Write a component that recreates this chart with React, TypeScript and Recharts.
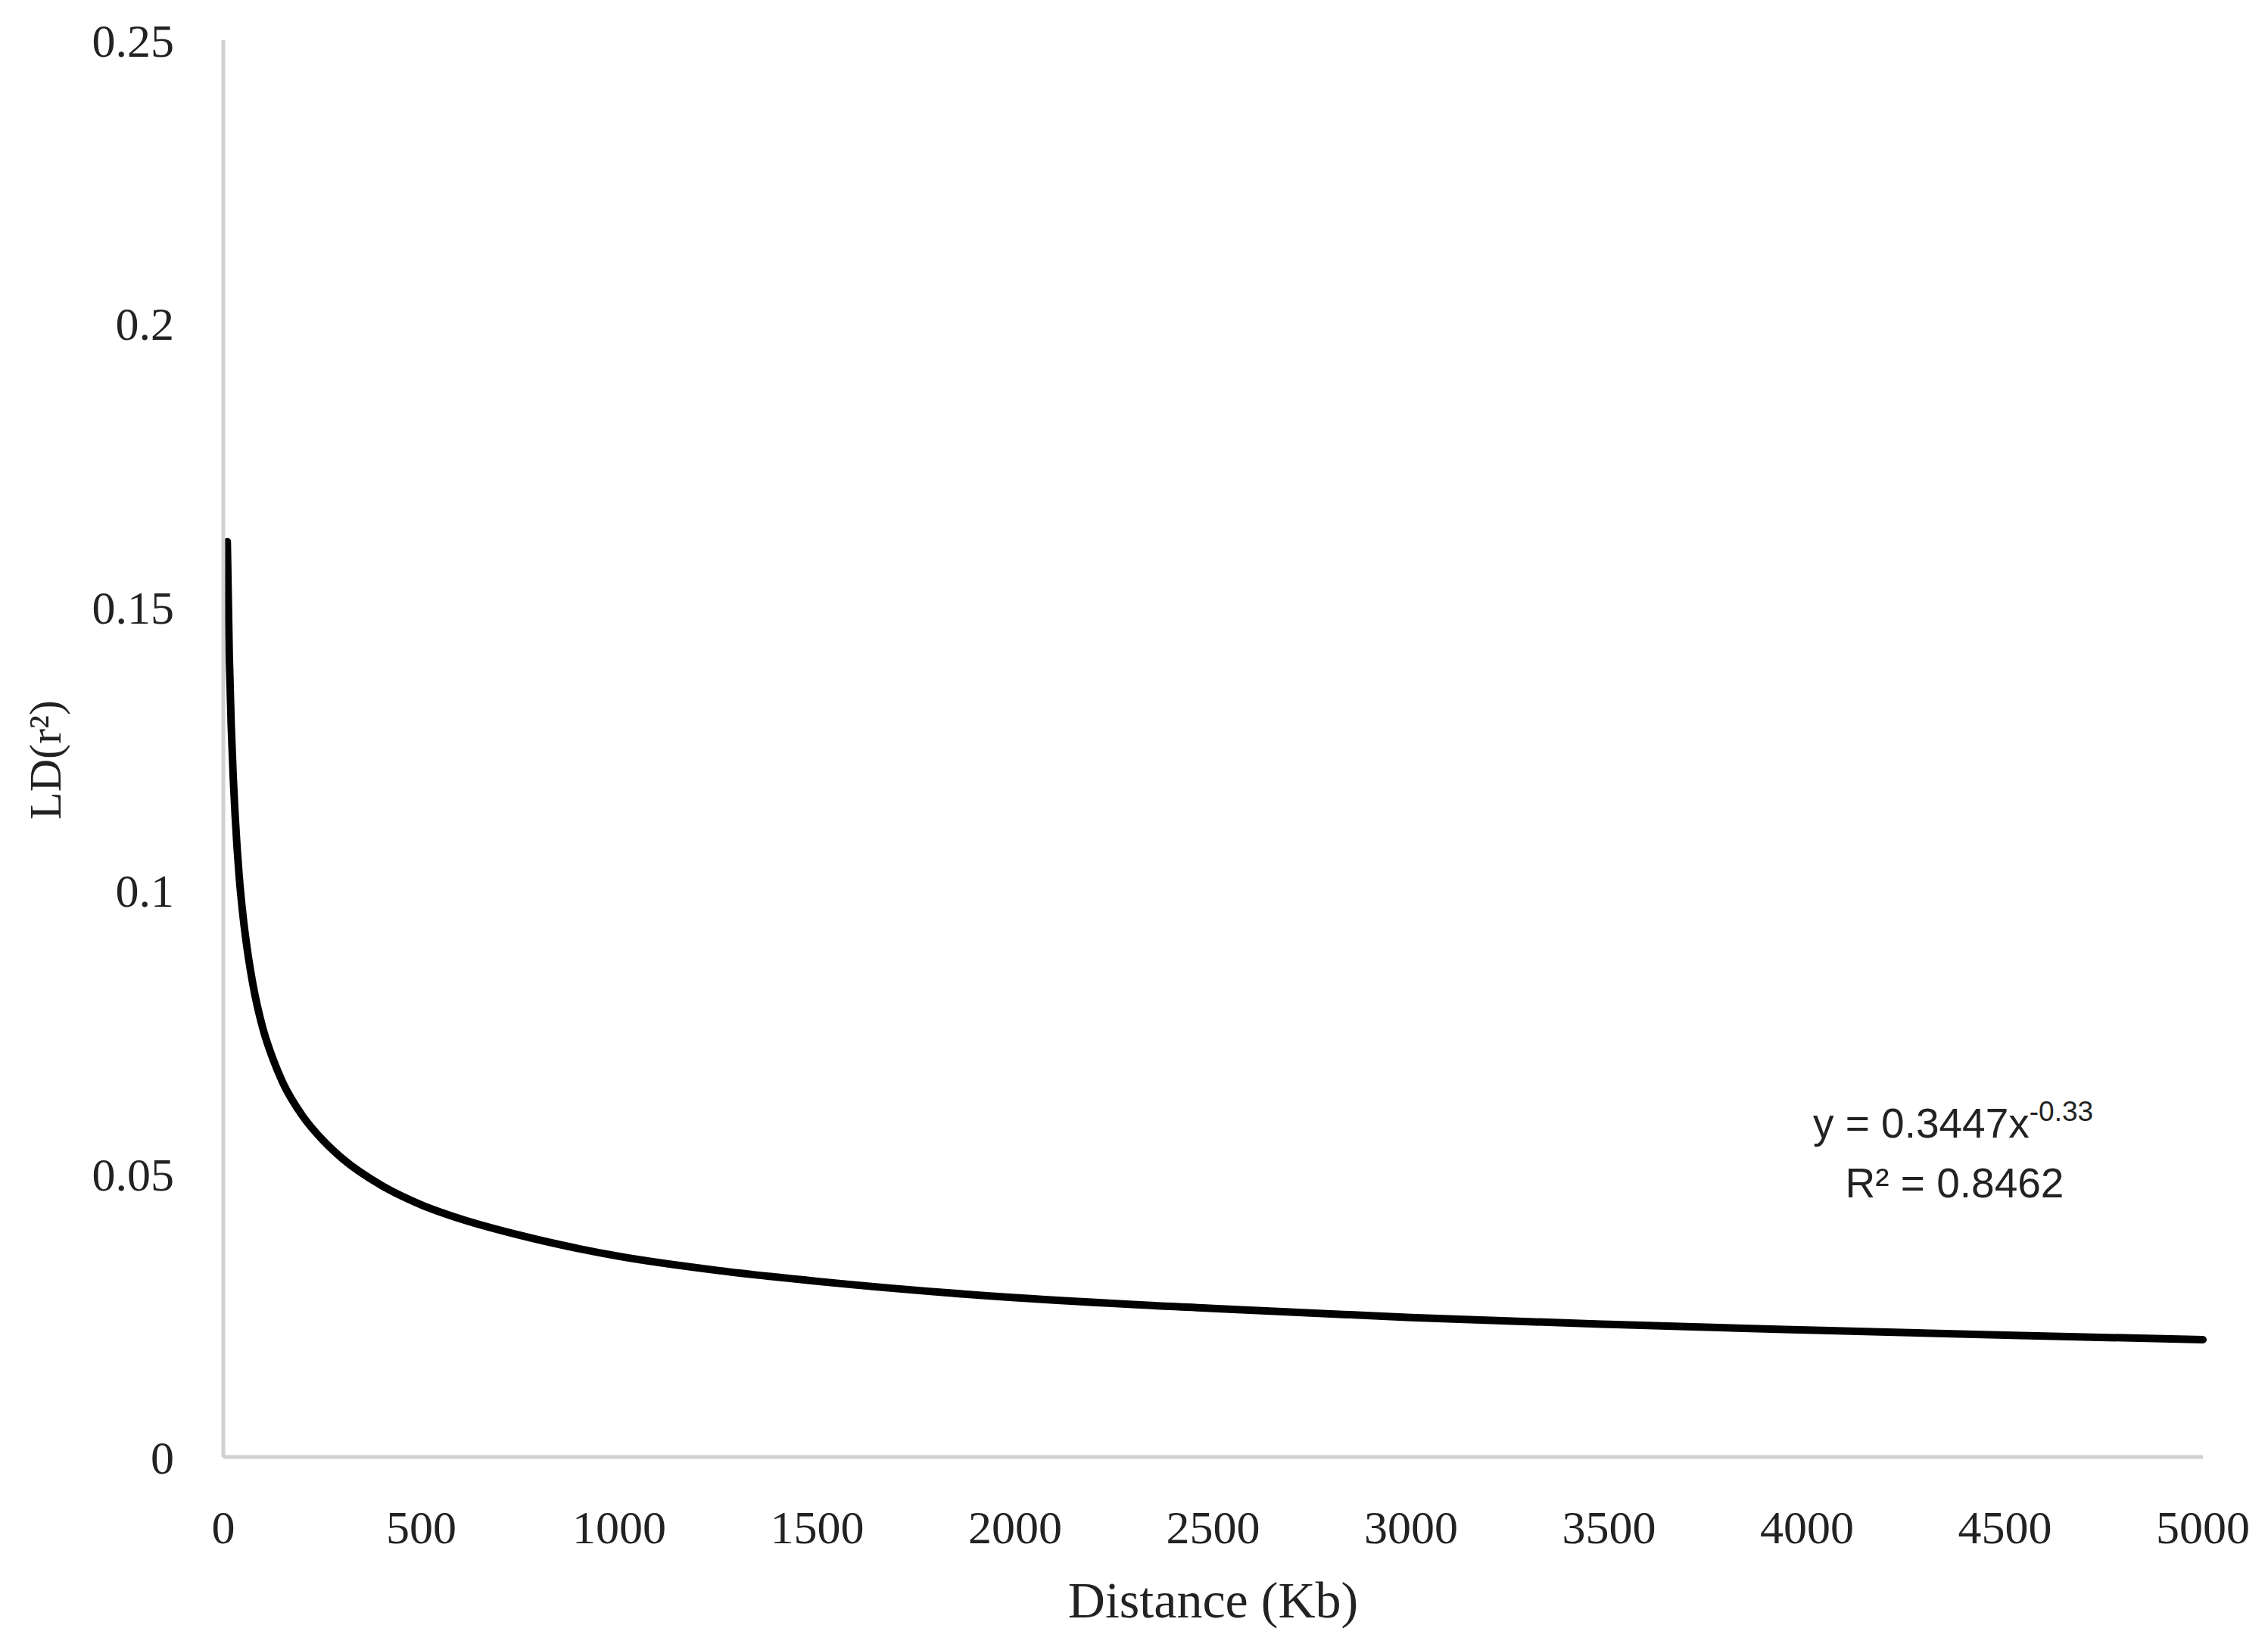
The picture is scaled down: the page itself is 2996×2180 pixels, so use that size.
import { LineChart, Line, XAxis, YAxis, Customized } from "recharts";

// distance (Kb) and LD r² values
const distanceKb = [
  10, 15, 20, 25, 30, 40, 50, 60, 75, 100, 125, 150, 200, 250, 300, 400, 500, 600, 750,
  1000, 1250, 1500, 2000, 2500, 3000, 3500, 4000, 4500, 5000,
];
const ldR2 = [
  0.1615, 0.1415, 0.129, 0.12, 0.113, 0.1025, 0.0953, 0.0898, 0.0833, 0.0756, 0.0703, 0.0661,
  0.0602, 0.056, 0.0527, 0.0479, 0.0445, 0.042, 0.0391, 0.0354, 0.0329, 0.031, 0.0281, 0.0262,
  0.0246, 0.0234, 0.0224, 0.0215, 0.0207,
];
const xTicks = [0, 500, 1000, 1500, 2000, 2500, 3000, 3500, 4000, 4500, 5000];
const yTicks = [0, 0.05, 0.1, 0.15, 0.2, 0.25];
const fitEquation = "y = 0.3447x";
const fitExponent = "-0.33";
const fitR2 = "R² = 0.8462";

const data = distanceKb.map((d, i) => ({ d, r2: ldR2[i] }));

const SERIF = "'Liberation Serif', 'Times New Roman', serif";
const SANS = "'Liberation Sans', Arial, sans-serif";
const AXIS_GRAY = "#d0d0d0";

function YTitle({ viewBox }: any) {
  const cy = viewBox.y + viewBox.height / 2 + 15;
  return (
    <text
      x={80}
      y={cy}
      transform={`rotate(-90, 80, ${cy})`}
      textAnchor="middle"
      fontFamily={SERIF}
      fontSize={60}
      fill="#222"
    >
      LD(r²)
    </text>
  );
}

function XTitle({ viewBox }: any) {
  return (
    <text
      x={viewBox.x + viewBox.width / 2}
      y={viewBox.y + 212}
      textAnchor="middle"
      fontFamily={SERIF}
      fontSize={68}
      fill="#222"
    >
      Distance (Kb)
    </text>
  );
}

function FitNote() {
  return (
    <g fontFamily={SANS} fill="#222" textAnchor="middle">
      <text x={2580} y={1503} fontSize={55}>
        {fitEquation}
        <tspan fontSize={37} dy={-22}>
          {fitExponent}
        </tspan>
      </text>
      <text x={2582} y={1582} fontSize={55}>
        {fitR2}
      </text>
    </g>
  );
}

export default function App() {
  return (
    <div style={{ width: 2996, height: 2180, background: "#fff" }}>
      <style>{`body{margin:0}`}</style>
      <LineChart
        width={2996}
        height={2180}
        data={data}
        margin={{ top: 53, right: 86, bottom: 0, left: 0 }}
      >
        <XAxis
          dataKey="d"
          type="number"
          domain={[0, 5000]}
          ticks={xTicks}
          height={255}
          tickLine={false}
          tickSize={0}
          tickMargin={70}
          axisLine={{ stroke: AXIS_GRAY, strokeWidth: 5 }}
          tick={{ fontFamily: SERIF, fontSize: 62, fill: "#222" }}
          label={{ content: XTitle }}
        />
        <YAxis
          type="number"
          domain={[0, 0.25]}
          ticks={yTicks}
          width={295}
          tickLine={false}
          tickSize={0}
          tickMargin={65}
          axisLine={{ stroke: AXIS_GRAY, strokeWidth: 5 }}
          tick={{ fontFamily: SERIF, fontSize: 62, fill: "#222" }}
          label={{ content: YTitle }}
        />
        <Line
          type="monotone"
          dataKey="r2"
          stroke="#000"
          strokeWidth={10}
          strokeLinecap="round"
          dot={false}
          isAnimationActive={false}
        />
        <Customized component={FitNote} />
      </LineChart>
    </div>
  );
}
